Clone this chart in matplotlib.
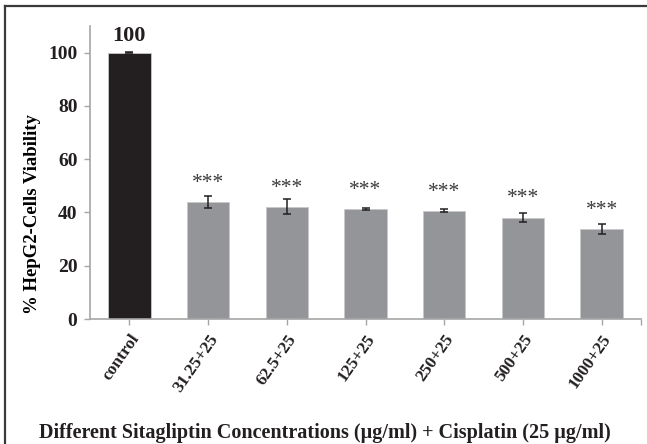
import matplotlib
matplotlib.use("Agg")
import matplotlib.pyplot as plt
from matplotlib.lines import Line2D

# Cell viability data (mean ± SD)
categories = ["control", "31.25+25", "62.5+25", "125+25", "250+25", "500+25", "1000+25"]
viability = [100.0, 44.0, 42.2, 41.4, 40.7, 38.1, 33.8]
errors = [0.2, 2.3, 2.8, 0.3, 0.5, 1.6, 2.0]
significance = ["", "***", "***", "***", "***", "***", "***"]
yticks = [0, 20, 40, 60, 80, 100]

plt.rcParams["font.family"] = ["Liberation Serif", "DejaVu Serif"]

W, H = 647, 444
fig = plt.figure(figsize=(W / 100, H / 100), dpi=100)
ax = fig.add_axes([90 / W, 1 - 319 / H, (641 - 90) / W, (319 - 26) / H])

colors = ["#231f20"] + ["#939598"] * (len(categories) - 1)
x = list(range(len(categories)))
ax.bar(x, viability, width=0.54, color=colors, edgecolor="#c8c8c8", linewidth=0.6, zorder=2)
ax.errorbar(x, viability, yerr=errors, fmt="none", ecolor="#231f20",
            elinewidth=1.1, capsize=2.6, capthick=1.1, zorder=3)

ax.set_xlim(-0.5, len(categories) - 0.5)
ax.set_ylim(0, 110)
ax.set_yticks(yticks)
ax.set_yticklabels([str(t) for t in yticks], fontsize=14, fontweight="bold")
ax.set_xticks(x + [len(categories) - 0.5])
ax.set_xticklabels(categories + [""], rotation=55, ha="right", va="top",
                   rotation_mode="anchor", fontsize=12.5, fontweight="bold")

for side in ("top", "right"):
    ax.spines[side].set_visible(False)
for side in ("left", "bottom"):
    ax.spines[side].set_color("#a6a6a6")
    ax.spines[side].set_linewidth(1.2)
ax.tick_params(axis="both", colors="#a6a6a6", length=4, width=1.0, labelcolor="#231f20")
ax.tick_params(axis="y", pad=5)
ax.tick_params(axis="x", pad=5)

ax.set_ylabel("% HepG2-Cells Viability", fontsize=13.5, fontweight="bold")
ax.yaxis.set_label_coords(-(90 - 41) / (641 - 90), (319 - 214) / (319 - 26))

# value label above the control bar
ax.text(0, viability[0] + 2.5, f"{viability[0]:.0f}", ha="center", va="bottom",
        fontsize=16, fontweight="bold", color="#231f20")

# significance markers
for xi, v, s in zip(x, viability, significance):
    if s:
        ax.text(xi, v + 3.4, s, ha="center", va="bottom", fontsize=15.5,
                color="#3a3a3a")

fig.text(325 / W, 1 - 433 / H,
         "Different Sitagliptin Concentrations (µg/ml) + Cisplatin (25 µg/ml)",
         ha="center", va="center", fontsize=14.5, fontweight="bold", color="#231f20")

# outer frame (top and left edges)
fig.add_artist(Line2D([5 / W, 1.0], [1 - 6.5 / H, 1 - 6.5 / H], transform=fig.transFigure,
                      color="#3a3a3a", linewidth=1.6))
fig.add_artist(Line2D([5 / W, 5 / W], [0.0, 1 - 6.5 / H], transform=fig.transFigure,
                      color="#3a3a3a", linewidth=1.6))

fig.savefig("out.png", dpi=100)
